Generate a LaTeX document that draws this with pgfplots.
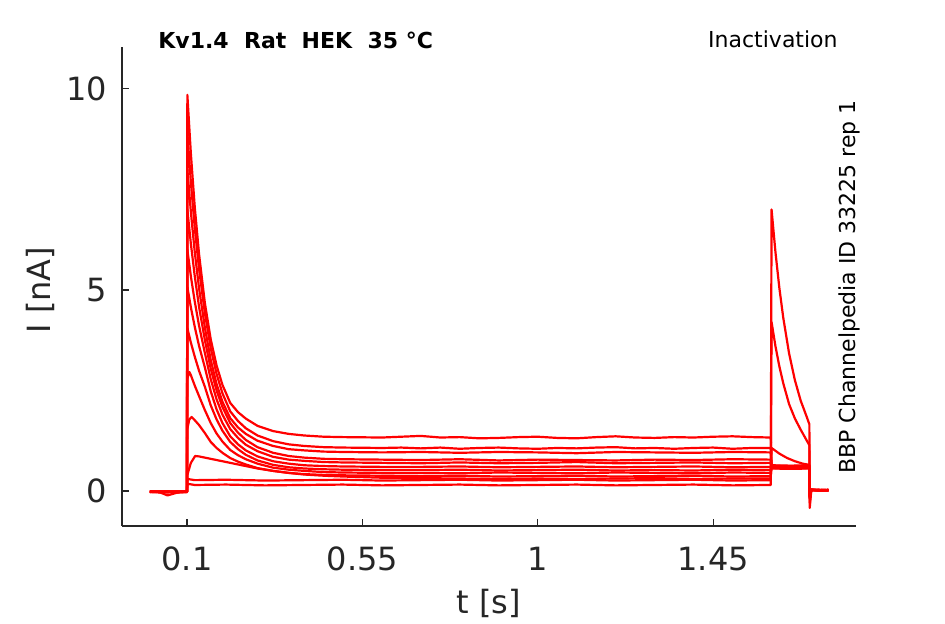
\documentclass[border=0pt]{standalone}
\usepackage{fontspec}
\setmainfont{DejaVu Sans}
\usepackage{pgfplots}
\pgfplotsset{compat=1.18}
\definecolor{axisgray}{HTML}{262626}
\definecolor{tr}{HTML}{FF0000}
\tikzset{trace/.style={draw=tr, mark=none, line width=1.1pt, line join=round}}
\begin{document}
\begin{tikzpicture}
\useasboundingbox (-61pt,-49pt) rectangle (411.5pt,263pt);
\begin{axis}[
  width=367pt, height=239.5pt, scale only axis,
  xmin=-0.0667, xmax=1.8167, ymin=-0.87, ymax=11.04,
  axis x line*=bottom, axis y line*=left,
  xtick={0.1,0.55,1,1.45}, xticklabels={0.1,0.55,1,1.45},
  ytick={0,5,10}, yticklabels={0,5,10},
  tick align=inside, major tick length=3.5pt,
  axis line style={draw=axisgray, line width=0.6pt},
  tick style={draw=axisgray, line width=0.6pt},
  ticklabel style={font=\fontsize{16}{19}\selectfont, text=axisgray},
  xticklabel style={yshift=-7pt},
  yticklabel style={xshift=-4pt},
  /pgf/number format/assume math mode=true,
]
% T1
\addplot[trace] coordinates {(0.005,-0.02)(0.03,-0.03)(0.05,-0.11)(0.075,-0.04)(0.0995,-0.02)(0.1,-0.02)
(0.101,9.85)(0.11,8.39)(0.12,7.06)(0.131,5.89)(0.146,4.67)(0.161,3.77)(0.176,3.12)(0.191,2.64)(0.211,2.19)(0.231,1.96)(0.251,1.80)(0.281,1.62)(0.321,1.49)(0.361,1.42)(0.401,1.38)(0.451,1.35)(0.501,1.34)(0.601,1.33)
(0.65,1.35)(0.7,1.37)(0.75,1.33)(0.8,1.34)(0.85,1.31)(0.9,1.32)(0.95,1.34)(1.0,1.35)(1.05,1.32)(1.1,1.31)(1.15,1.34)(1.2,1.36)(1.25,1.33)(1.3,1.32)(1.35,1.34)(1.4,1.33)(1.45,1.35)(1.5,1.36)(1.55,1.34)(1.598,1.33)
(1.6,0.62)(1.65,0.61)(1.697,0.62)(1.698,-0.15)(1.702,0.03)(1.72,0.02)(1.746,0.03)};
% T2
\addplot[trace] coordinates {(0.005,-0.01)(0.03,-0.03)(0.05,-0.02)(0.075,-0.02)(0.0995,-0.01)(0.1,-0.01)
(0.101,8.90)(0.11,7.68)(0.12,6.54)(0.131,5.52)(0.146,4.42)(0.161,3.55)(0.176,2.91)(0.191,2.43)(0.211,1.98)(0.231,1.74)(0.251,1.56)(0.281,1.38)(0.321,1.24)(0.361,1.16)(0.401,1.12)(0.451,1.09)(0.501,1.08)(0.601,1.07)
(0.65,1.08)(0.7,1.06)(0.75,1.08)(0.8,1.05)(0.85,1.07)(0.9,1.08)(0.95,1.06)(1.0,1.05)(1.05,1.07)(1.1,1.06)(1.15,1.08)(1.2,1.09)(1.25,1.06)(1.3,1.07)(1.35,1.05)(1.4,1.07)(1.45,1.08)(1.5,1.05)(1.55,1.07)(1.598,1.07)
(1.6,0.60)(1.65,0.59)(1.697,0.60)(1.698,-0.12)(1.702,0.04)(1.72,0.01)(1.746,0.02)};
% T3
\addplot[trace] coordinates {(0.005,-0.02)(0.03,-0.01)(0.05,-0.03)(0.075,-0.02)(0.0995,-0.02)(0.1,-0.02)
(0.101,8.00)(0.11,6.94)(0.12,5.94)(0.131,5.04)(0.146,4.06)(0.161,3.26)(0.176,2.66)(0.191,2.22)(0.211,1.81)(0.231,1.58)(0.251,1.42)(0.281,1.25)(0.321,1.12)(0.361,1.04)(0.401,1.01)(0.451,0.98)(0.501,0.97)(0.601,0.96)
(0.7,0.97)(0.8,0.95)(0.9,0.97)(1.0,0.96)(1.1,0.94)(1.2,0.97)(1.3,0.96)(1.4,0.95)(1.5,0.97)(1.598,0.96)
(1.6,0.58)(1.65,0.57)(1.697,0.58)(1.698,-0.10)(1.702,0.02)(1.72,0.03)(1.746,0.01)};
% T4
\addplot[trace] coordinates {(0.005,-0.01)(0.03,-0.02)(0.05,-0.01)(0.075,-0.03)(0.0995,-0.02)(0.1,-0.02)
(0.101,7.00)(0.11,6.15)(0.12,5.34)(0.131,4.58)(0.146,3.75)(0.161,3.04)(0.176,2.50)(0.191,2.09)(0.211,1.69)(0.231,1.45)(0.251,1.27)(0.281,1.09)(0.321,0.95)(0.361,0.87)(0.401,0.83)(0.451,0.80)(0.501,0.79)(0.601,0.78)
(0.7,0.77)(0.8,0.79)(0.9,0.76)(1.0,0.78)(1.1,0.77)(1.2,0.76)(1.3,0.78)(1.4,0.77)(1.5,0.79)(1.598,0.78)
(1.6,0.63)(1.65,0.62)(1.697,0.63)(1.698,-0.10)(1.702,0.03)(1.72,0.02)(1.746,0.02)};
% T5
\addplot[trace] coordinates {(0.005,-0.02)(0.03,-0.02)(0.05,-0.03)(0.075,-0.01)(0.0995,-0.02)(0.1,-0.02)
(0.101,6.00)(0.11,5.34)(0.12,4.71)(0.131,4.11)(0.146,3.43)(0.161,2.78)(0.176,2.28)(0.191,1.90)(0.211,1.54)(0.231,1.32)(0.251,1.15)(0.281,0.99)(0.321,0.85)(0.361,0.78)(0.401,0.75)(0.451,0.72)(0.501,0.71)(0.601,0.70)
(0.7,0.69)(0.8,0.71)(0.9,0.69)(1.0,0.70)(1.1,0.72)(1.2,0.69)(1.3,0.70)(1.4,0.71)(1.5,0.69)(1.598,0.70)
(1.6,0.57)(1.65,0.56)(1.697,0.57)(1.698,-0.12)(1.702,0.02)(1.72,0.03)(1.746,0.02)};
% T6
\addplot[trace] coordinates {(0.005,-0.03)(0.03,-0.02)(0.05,-0.02)(0.075,-0.03)(0.0995,-0.02)(0.1,-0.02)
(0.101,5.07)(0.11,4.57)(0.12,4.08)(0.131,3.61)(0.146,3.07)(0.161,2.48)(0.176,2.03)(0.191,1.69)(0.211,1.36)(0.231,1.16)(0.251,1.01)(0.281,0.86)(0.321,0.74)(0.361,0.68)(0.401,0.64)(0.451,0.62)(0.501,0.61)(0.601,0.60)
(0.7,0.60)(0.8,0.61)(0.9,0.59)(1.0,0.60)(1.1,0.61)(1.2,0.59)(1.3,0.60)(1.4,0.61)(1.5,0.59)(1.598,0.60)
(1.6,0.61)(1.65,0.60)(1.697,0.61)(1.698,-0.14)(1.702,0.03)(1.72,0.02)(1.746,0.03)};
% T7
\addplot[trace] coordinates {(0.005,-0.02)(0.03,-0.03)(0.05,-0.02)(0.075,-0.02)(0.0995,-0.03)(0.1,-0.03)
(0.101,4.05)(0.11,3.69)(0.12,3.34)(0.131,2.99)(0.146,2.59)(0.161,2.13)(0.176,1.78)(0.191,1.50)(0.211,1.22)(0.231,1.04)(0.251,0.90)(0.281,0.76)(0.321,0.65)(0.361,0.59)(0.401,0.56)(0.451,0.54)(0.501,0.53)(0.601,0.52)
(0.7,0.52)(0.8,0.53)(0.9,0.51)(1.0,0.52)(1.1,0.53)(1.2,0.51)(1.3,0.52)(1.4,0.51)(1.5,0.53)(1.598,0.52)
(1.6,0.59)(1.65,0.58)(1.697,0.59)(1.698,-0.15)(1.702,0.02)(1.72,0.01)(1.746,0.02)};
% T8
\addplot[trace] coordinates {(0.005,-0.01)(0.03,-0.02)(0.05,-0.03)(0.075,-0.02)(0.0995,-0.01)(0.1,-0.01)
(0.101,2.80)(0.106,2.96)(0.11,2.88)(0.12,2.62)(0.131,2.36)(0.146,2.01)(0.161,1.69)(0.176,1.43)(0.191,1.23)(0.211,1.02)(0.231,0.89)(0.251,0.79)(0.281,0.68)(0.321,0.58)(0.361,0.53)(0.401,0.50)(0.451,0.47)(0.501,0.46)(0.601,0.45)
(0.7,0.45)(0.8,0.44)(0.9,0.46)(1.0,0.45)(1.1,0.44)(1.2,0.46)(1.3,0.45)(1.4,0.44)(1.5,0.46)(1.598,0.45)
(1.6,0.56)(1.65,0.55)(1.697,0.56)(1.698,-0.16)(1.702,0.03)(1.72,0.02)(1.746,0.01)};
% T9
\addplot[trace] coordinates {(0.005,-0.02)(0.03,-0.01)(0.05,-0.02)(0.075,-0.03)(0.0995,-0.02)(0.1,-0.02)
(0.101,1.55)(0.106,1.78)(0.112,1.84)(0.12,1.76)(0.131,1.64)(0.146,1.44)(0.161,1.22)(0.176,1.07)(0.191,0.95)(0.211,0.82)(0.231,0.73)(0.251,0.66)(0.281,0.57)(0.321,0.50)(0.361,0.45)(0.401,0.42)(0.451,0.40)(0.501,0.39)(0.601,0.38)
(0.7,0.37)(0.8,0.38)(0.9,0.36)(1.0,0.37)(1.1,0.38)(1.2,0.36)(1.3,0.37)(1.4,0.38)(1.5,0.36)(1.598,0.37)
(1.6,0.64)(1.65,0.63)(1.697,0.64)(1.698,-0.18)(1.702,0.02)(1.72,0.03)(1.746,0.02)};
% T10
\addplot[trace] coordinates {(0.005,-0.02)(0.03,-0.02)(0.05,-0.01)(0.075,-0.02)(0.0995,-0.02)(0.1,-0.02)
(0.101,0.40)(0.11,0.70)(0.121,0.87)(0.131,0.86)(0.146,0.83)(0.161,0.80)(0.181,0.76)(0.201,0.72)(0.226,0.67)(0.251,0.62)(0.281,0.56)(0.321,0.50)(0.361,0.45)(0.401,0.41)(0.451,0.38)(0.501,0.36)(0.601,0.33)
(0.7,0.32)(0.8,0.31)(0.9,0.30)(1.0,0.31)(1.1,0.30)(1.2,0.31)(1.3,0.32)(1.4,0.30)(1.5,0.31)(1.598,0.31)
(1.6,1.07)(1.61,1.00)(1.62,0.93)(1.64,0.82)(1.66,0.74)(1.68,0.68)(1.697,0.65)(1.698,-0.20)(1.702,0.03)(1.72,0.02)(1.746,0.02)};
% T11
\addplot[trace] coordinates {(0.005,-0.01)(0.03,-0.02)(0.05,-0.02)(0.075,-0.01)(0.0995,-0.02)(0.1,-0.02)
(0.101,0.30)(0.12,0.27)(0.2,0.28)(0.3,0.26)(0.4,0.27)(0.5,0.28)(0.6,0.26)(0.7,0.27)(0.8,0.28)(0.9,0.26)(1.0,0.27)(1.1,0.28)(1.2,0.26)(1.3,0.27)(1.4,0.28)(1.5,0.26)(1.598,0.27)
(1.6,4.20)(1.61,3.60)(1.62,3.10)(1.63,2.68)(1.645,2.16)(1.66,1.80)(1.675,1.52)(1.69,1.26)(1.697,1.14)(1.698,-0.30)(1.702,0.04)(1.72,0.02)(1.746,0.03)};
% T12
\addplot[trace] coordinates {(0.005,-0.02)(0.03,-0.03)(0.05,-0.02)(0.075,-0.02)(0.0995,-0.01)(0.1,-0.01)
(0.101,0.18)(0.12,0.15)(0.2,0.16)(0.3,0.14)(0.4,0.15)(0.5,0.16)(0.6,0.14)(0.7,0.15)(0.8,0.16)(0.9,0.14)(1.0,0.15)(1.1,0.16)(1.2,0.14)(1.3,0.15)(1.4,0.16)(1.5,0.14)(1.598,0.15)
(1.6,7.00)(1.61,5.94)(1.62,5.05)(1.63,4.31)(1.645,3.42)(1.66,2.75)(1.675,2.24)(1.69,1.85)(1.697,1.66)(1.698,-0.42)(1.702,0.03)(1.72,0.01)(1.746,0.02)};
\end{axis}
\node[rotate=90, font=\fontsize{16}{19}\selectfont, text=axisgray] at (-41pt,118pt) {I [nA]};
\node[font=\fontsize{16}{19}\selectfont, text=axisgray] at (183.5pt,-38.5pt) {t [s]};
\node[anchor=west, font=\bfseries\fontsize{11}{13}\selectfont, inner sep=0pt] at (18pt,243pt) {Kv1.4\ \ Rat\ \ HEK\ \ 35 °C};
\node[anchor=east, font=\fontsize{11}{13}\selectfont, inner sep=0pt] at (358pt,243.5pt) {Inactivation};
\node[rotate=90, font=\fontsize{11}{13}\selectfont, inner sep=0pt] at (363.5pt,119.5pt) {BBP Channelpedia ID 33225 rep 1};
\end{tikzpicture}
\end{document}
